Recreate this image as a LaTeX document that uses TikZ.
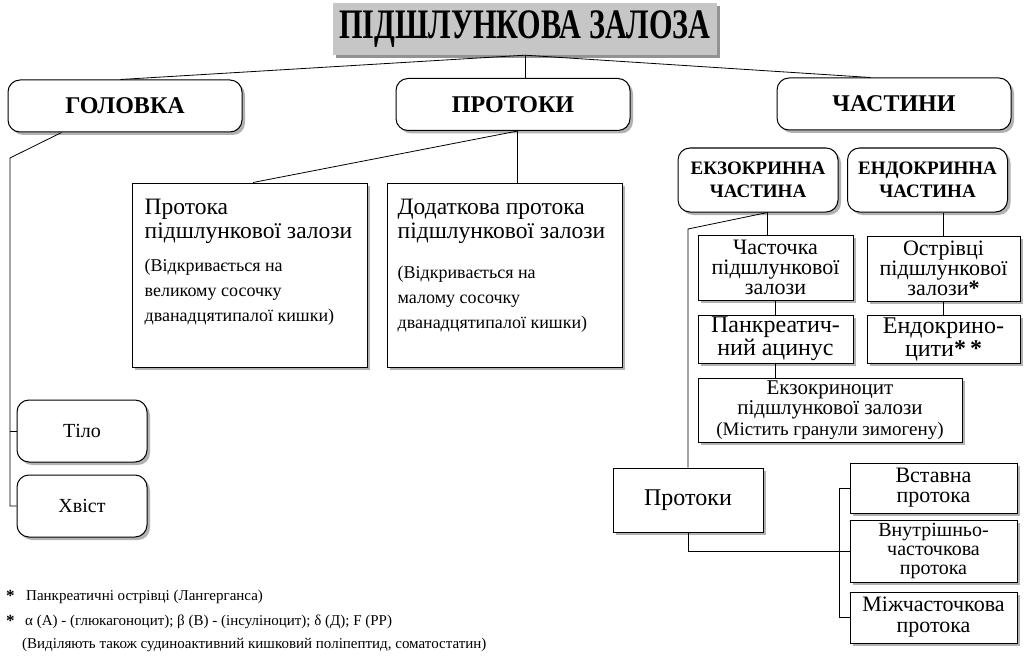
\documentclass[tikz,border=0pt]{standalone}
\usepackage{graphicx}
\usepackage{fontspec}
\setmainfont{Liberation Serif}
\usepackage{tikz}
\usetikzlibrary{positioning,calc,shadows}

\tikzset{
    shade3/.style={drop shadow={shadow xshift=3pt, shadow yshift=-3pt, fill=gray!60, opacity=1}},
    rbox/.style={draw, line width=1pt, rounded corners=12pt, fill=white, shade3, inner sep=0pt, align=center},
    sbox/.style={draw, line width=1pt, fill=white, shade3, inner sep=0pt, align=center},
    headbox/.style={rbox, minimum width=234pt, minimum height=52pt, font=\fontsize{24}{28}\selectfont\bfseries},
    partbox/.style={rbox, minimum width=160pt, minimum height=64pt, font=\fontsize{19}{23}\selectfont\bfseries},
    limbbox/.style={rbox, minimum width=130pt, minimum height=62pt, font=\fontsize{20}{24}\selectfont},
    ductbox/.style={sbox, minimum width=235pt, minimum height=184pt},
    cellbox/.style={sbox, font=\fontsize{22}{20}\selectfont},
    conn/.style={line width=0.8pt},
    notetext/.style={inner sep=0pt, anchor=base west, font=\fontsize{15}{17}\selectfont}
}

\begin{document}
\begin{tikzpicture}[x=1pt, y=-1pt]
    \useasboundingbox (0,0) rectangle (1033,658);

    % Title
    \node[fill=gray!45, drop shadow={shadow xshift=3pt, shadow yshift=-3pt, fill=gray!85, opacity=1},
          minimum width=384pt, minimum height=52pt, inner sep=0pt,
          font=\fontsize{42}{42}\selectfont\bfseries] (title) at (525,29)
          {\scalebox{0.72}[1]{ПІДШЛУНКОВА ЗАЛОЗА}};

    % Main branches
    \node[headbox] (golovka) at (125,106) {ГОЛОВКА};
    \node[headbox] (protoky) at (513,104.5) {ПРОТОКИ};
    \node[headbox] (chastyny) at (894,104) {ЧАСТИНИ};

    \draw[conn] (title.south) -- ($(golovka.north west)!0.48!(golovka.north east)$);
    \draw[conn] (title.south) -- (title.south |- protoky.north);
    \draw[conn] (title.south) -- ($(chastyny.north west)!0.4!(chastyny.north east)$);

    % Head, body, tail
    \node[limbbox] (tilo) at (82,431) {Тіло};
    \node[limbbox] (khvist) at (82,506) {Хвіст};
    \coordinate (golovkaleg) at (10,158);
    \draw[conn] ($(golovka.south west)!0.23!(golovka.south east)$) -- (golovkaleg) |- (khvist.west);
    \draw[conn] (golovkaleg |- tilo.west) -- (tilo.west);

    % Ducts
    \node[ductbox] (protoka) at (249.5,275) {};
    \node[ductbox] (dodatk) at (504.5,275) {};
    \node[inner sep=0pt, anchor=north west, align=left, font=\fontsize{23.5}{24}\selectfont]
        (protokaname) at ($(protoka.north west)+(13,16)$) {Протока\\підшлункової залози};
    \node[inner sep=0pt, anchor=north west, align=left, font=\fontsize{18}{25}\selectfont]
        (protokanote) at ($(protoka.north west)+(13,76)$) {(Відкривається на\\великому сосочку\\дванадцятипалої кишки)};
    \node[inner sep=0pt, anchor=north west, align=left, font=\fontsize{23.5}{24}\selectfont]
        (dodatkname) at ($(dodatk.north west)+(11,16)$) {Додаткова протока\\підшлункової залози};
    \node[inner sep=0pt, anchor=north west, align=left, font=\fontsize{18}{25}\selectfont]
        (dodatknote) at ($(dodatk.north west)+(11,83)$) {(Відкривається на\\малому сосочку\\дванадцятипалої кишки)};

    \coordinate (protokyfoot) at ($(protoky.south west)!0.52!(protoky.south east)$);
    \draw[conn] (protokyfoot) -- (protokyfoot |- dodatk.north);
    \draw[conn] (protokyfoot) -- ($(protoka.north west)!0.515!(protoka.north east)$);

    % Parts
    \node[partbox] (ekzo) at (758,180) {ЕКЗОКРИННА\\ЧАСТИНА};
    \node[partbox] (endo) at (927.5,180) {ЕНДОКРИННА\\ЧАСТИНА};

    \node[cellbox, minimum width=155pt, minimum height=65pt] (chastochka) at (775.5,267.5) {Часточка\\підшлункової\\залози};
    \node[cellbox, minimum width=153pt, minimum height=65pt] (ostrivtsi) at (943.5,268.5) {Острівці\\підшлункової\\залози{\bfseries*}};
    \node[cellbox, minimum width=155pt, minimum height=48pt, font=\fontsize{24}{23}\selectfont] (acinus) at (775.5,339) {Панкреатич-\\ний ацинус};
    \node[cellbox, minimum width=153pt, minimum height=48pt, font=\fontsize{24}{23}\selectfont] (endocyt) at (943.5,339) {Ендокрино-\\цити{\bfseries*\,*}};
    \node[cellbox, minimum width=264pt, minimum height=64pt, font=\fontsize{21}{20.5}\selectfont] (ekzocyt) at (830,410)
        {Екзокриноцит\\підшлункової залози\\\fontsize{19}{19}\selectfont(Містить гранули зимогену)};

    \coordinate (ekzofoot) at ($(ekzo.south west)!0.56!(ekzo.south east)$);
    \draw[conn] (ekzofoot) -- (ekzofoot |- chastochka.north);
    \draw[conn] (endo.south -| ostrivtsi.north) -- (ostrivtsi.north);
    \draw[conn] (chastochka.south) -- (acinus.north);
    \draw[conn] (ostrivtsi.south) -- (endocyt.north);
    \draw[conn] (acinus.south) -- (acinus.south |- ekzocyt.north);

    % Exocrine ducts
    \node[cellbox, minimum width=150pt, minimum height=64pt, font=\fontsize{24}{24}\selectfont] (protoky2) at (688,500) {Протоки};
    \node[cellbox, minimum width=167pt, minimum height=50pt, font=\fontsize{22}{20}\selectfont] (vstavna) at (933.5,488) {Вставна\\протока};
    \node[cellbox, minimum width=167pt, minimum height=62pt, font=\fontsize{20}{19}\selectfont] (vnutr) at (933.5,551) {Внутрішньо-\\часточкова\\протока};
    \node[cellbox, minimum width=167pt, minimum height=51pt, font=\fontsize{22}{21}\selectfont] (mizh) at (933.5,617.5) {Міжчасточкова\\протока};

    \coordinate (ekzoleg) at (688,229);
    \draw[conn] (ekzofoot) -- (ekzoleg) -- (protoky2.north);
    \draw[conn] (protoky2.south) |- (vnutr.west);
    \draw[conn] (vstavna.west) -- ++(-10,0) |- (mizh.west);

    % Footnotes
    \node[notetext, font=\fontsize{17}{17}\selectfont\bfseries] (star1) at (6,601) {*};
    \node[notetext, font=\fontsize{17}{17}\selectfont\bfseries] (star2) at (6,626) {*};
    \node[notetext] (note1) at (26,600) {Панкреатичні острівці (Лангерганса)};
    \node[notetext] (note2) at (25,625) {α (А) - (глюкагоноцит); β (В) - (інсуліноцит); δ (Д); F (PP)};
    \node[notetext] (note3) at (22,648) {(Виділяють також судиноактивний кишковий поліпептид, соматостатин)};
\end{tikzpicture}
\end{document}
